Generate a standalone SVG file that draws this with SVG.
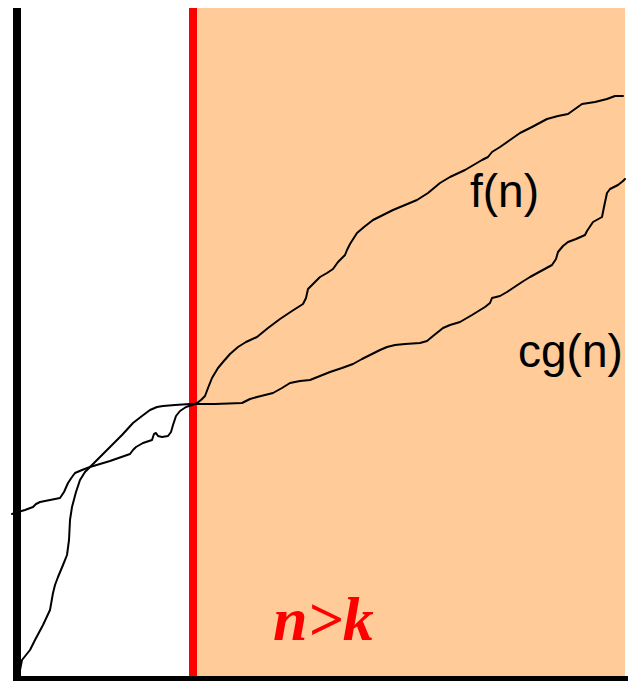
<svg xmlns="http://www.w3.org/2000/svg" width="628" height="681" viewBox="0 0 628 681">
<style>
.curve{fill:none;stroke:#000;stroke-width:2;stroke-linejoin:round;stroke-linecap:round}
.lbl{font-family:"Liberation Sans",Arial,sans-serif;font-size:46px;fill:#000}
.cond{font-family:"Liberation Serif","Times New Roman",serif;font-size:62px;font-weight:bold;font-style:italic;fill:#ff0000}
</style>
<rect width="628" height="681" fill="#ffffff"/>
<g id="region">
<rect x="193" y="8" width="432" height="670" fill="#fecb99"/>
</g>
<g id="threshold">
<rect x="189" y="8" width="8" height="670" fill="#ff0000"/>
</g>
<g id="axes">
<rect x="13" y="8" width="8" height="671" fill="#000"/>
<rect x="13" y="676" width="615" height="5" fill="#000"/>
</g>
<g id="connectors">
<polyline id="cg-curve" class="curve" points="19,676 20,670 22,660 30,650 35,640 43,625 50,610 53,593 55,585 58,577 63,565 67,555 69,540 70,520 72,507 76,492 80,480 85,472 90,467 100,457 110,447 122,435 133,423 142,416 150,410 157,407 163,406 175,405 190,404 215,404 242,403 250,399 257,397 265,395 273,393 282,388 290,383 300,381 310,380 320,376 330,372 342,368 353,364 362,359 370,355 380,350 387,347 395,345 405,344 420,343 427,341 433,336 443,328 450,325 460,322 472,315 485,307 490,303 492,298 500,296 507,292 513,288 522,282 530,277 541,271 552,265 556,259 558,252 563,246 568,242 576,239 585,235 587,231 593,222 602,217 604,207 607,193 610,189 618,185 623,181 625,179"/>
<polyline id="f-curve" class="curve" points="12,514 18,512 25,510 33,507 36,504 40,502 50,500 60,498 64,492 68,483 72,477 75,473 82,470 90,467 110,461 130,454 133,450 136,447 143,443 152,440 154,434 156,433 158,436 162,437 168,436 171,432 173,425 176,416 180,411 186,407 192,405 197,403 201,400 205,396 208,388 212,378 218,368 223,362 230,354 238,347 246,342 257,337 268,328 280,319 292,311 303,304 306,298 308,289 313,284 320,277 327,273 333,269 338,262 345,255 347,250 350,244 357,233 364,227 373,220 383,215 393,210 405,205 417,200 428,193 440,183 450,177 465,170 482,160 488,157 492,152 500,147 510,140 520,133 532,127 547,119 558,116 568,114 575,109 582,104 595,102 607,99 615,96 623,96"/>
</g>
<g id="label-f">
<text class="lbl" x="470" y="207">f(n)</text>
</g>
<g id="label-cg">
<text class="lbl" x="518" y="367">cg(n)</text>
</g>
<g id="label-cond">
<text class="cond" x="273" y="640">n&gt;k</text>
</g>
</svg>
